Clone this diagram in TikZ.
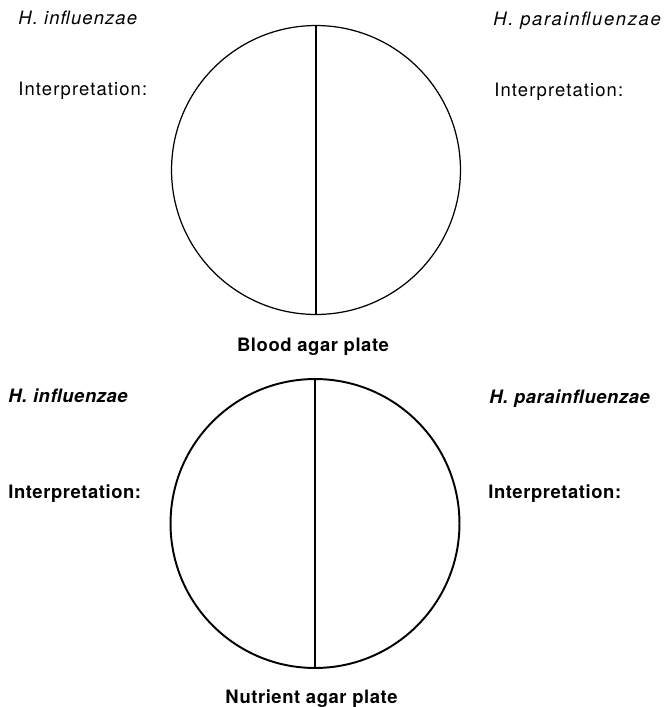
\documentclass[tikz,border=0pt]{standalone}
\usepackage{fontspec}
\setmainfont{TeX Gyre Heros}
\newfontfamily\lightlbl[LetterSpace=6]{TeX Gyre Heros}
\newfontfamily\heavylbl[LetterSpace=3]{TeX Gyre Heros}
\begin{document}
\begin{tikzpicture}[
  x=0.02cm, y=-0.02cm,
  plate/.style={circle, draw=black, inner sep=0pt, minimum size=5.78cm},
  divider/.style={draw=black, line width=1.1pt},
  lbl/.style={anchor=base west, inner sep=0pt, font=\lightlbl\fontsize{10.5}{12}\selectfont},
  boldlbl/.style={anchor=base west, inner sep=0pt, font=\heavylbl\bfseries\fontsize{10.5}{12}\selectfont},
  caption/.style={anchor=base, inner sep=0pt, font=\heavylbl\bfseries\fontsize{10.5}{12}\selectfont}
]
  \useasboundingbox (0,0) rectangle (666,707);

  % Blood agar plate (oben)
  \node[plate, line width=0.7pt] (blood) at (316,170) {};
  \draw[divider] (blood.north) -- (blood.south);
  \node[lbl] (bloodL) at (18,24) {\itshape H. influenzae};
  \node[lbl] (bloodLi) at (18,95) {Interpretation:};
  \node[lbl] (bloodR) at (493,25) {\itshape \addfontfeatures{LetterSpace=9}H. parainfluenzae};
  \node[lbl] (bloodRi) at (494,96) {Interpretation:};
  \node[caption] (bloodcap) at (313,351) {Blood agar plate};

  % Nutrient agar plate (unten)
  \node[plate, line width=1.1pt] (nutrient) at (315,523.5) {};
  \draw[divider] (nutrient.north) -- (nutrient.south);
  \node[boldlbl] (nutL) at (8,402) {\itshape H. influenzae};
  \node[boldlbl] (nutLi) at (8,498) {Interpretation:};
  \node[boldlbl] (nutR) at (489,403) {\itshape H. parainfluenzae};
  \node[boldlbl] (nutRi) at (488,498) {Interpretation:};
  \node[caption] (nutcap) at (311.5,703) {Nutrient agar plate};
\end{tikzpicture}
\end{document}
